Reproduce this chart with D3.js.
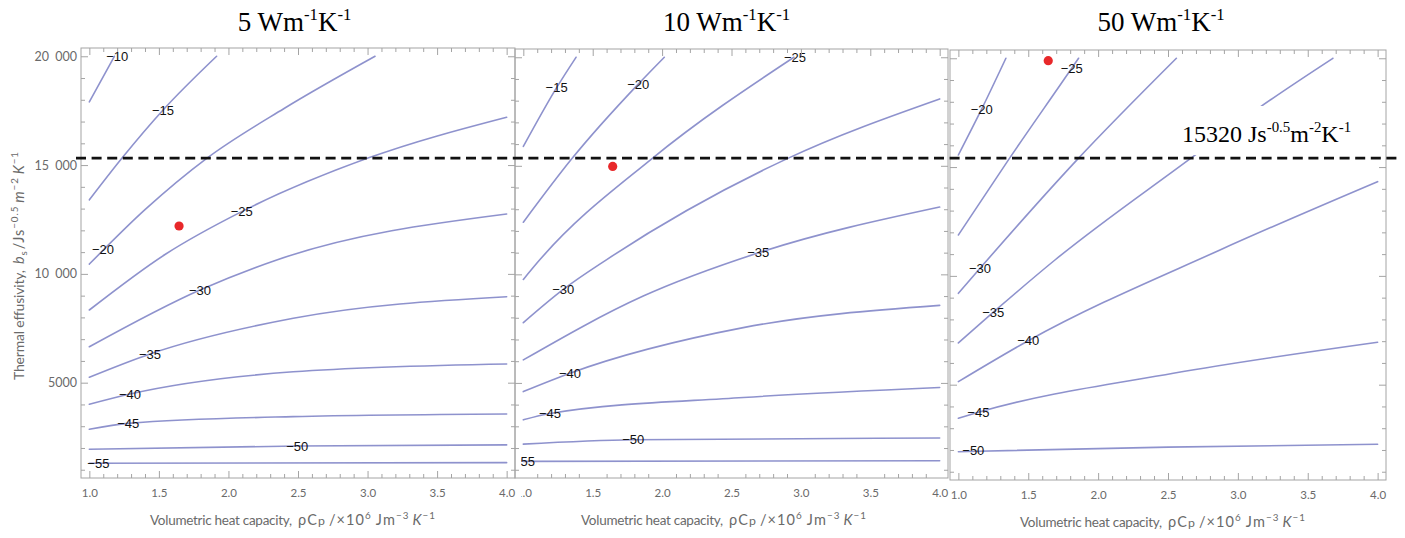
<!DOCTYPE html>
<html><head><meta charset="utf-8">
<script src="https://cdn.jsdelivr.net/npm/d3@7"></script>
<style>body{margin:0;background:#fff} svg{display:block}</style>
</head><body>
<svg id="chart" width="1405" height="538"></svg>
<script>
// ---------------- DATA ----------------
const conductivities = [5, 10, 50];                       // W m-1 K-1, one per panel
const xTickValues = [1.0, 1.5, 2.0, 2.5, 3.0, 3.5, 4.0];
const xTickLabels = ["1.0", "1.5", "2.0", "2.5", "3.0", "3.5", "4.0"];
const yTickValues = [5000, 10000, 15000, 20000];
const yTickLabels = ["5000", "10 000", "15 000", "20 000"];
const effusivityThreshold = 15320;
const thresholdLabel = "15320";
const redDots = [[1.645, 12200], [1.644, 14970], [1.643, 19890]];

// contour polylines: [level, [[rhoCp, b], ...]]
const panel1Contours = [
  [-10, [[1.0, 17900], [1.18, 20000]]],
  [-15, [[1.0, 13400], [1.235, 15320], [1.53, 17530], [1.915, 20000]]],
  [-20, [[1.0, 10450], [1.4, 12950], [1.846, 15320], [2.4, 17600], [3.054, 20000]]],
  [-25, [[1.0, 8340], [1.544, 10890], [2.095, 12860], [3.003, 15320], [4.0, 17200]]],
  [-30, [[1.0, 6650], [1.795, 9260], [2.347, 10640], [4.0, 12750]]],
  [-35, [[1.0, 5250], [1.436, 6320], [2.466, 7960], [4.0, 8950]]],
  [-40, [[1.0, 4010], [1.292, 4480], [2.466, 5500], [4.0, 5860]]],
  [-45, [[1.0, 2860], [1.28, 3130], [2.466, 3440], [4.0, 3560]]],
  [-50, [[1.0, 1940], [2.495, 2090], [4.0, 2140]]],
  [-55, [[1.0, 1300], [4.0, 1325]]]
];
const panel2Contours = [
  [-15, [[1.0, 15890], [1.24, 18600], [1.38, 20000]]],
  [-20, [[1.0, 12400], [1.349, 15320], [1.828, 18760], [2.016, 20000]]],
  [-25, [[1.0, 9765], [1.12, 10680], [1.925, 15320], [2.95, 20000]]],
  [-30, [[1.0, 7775], [1.288, 9305], [1.601, 10680], [2.898, 15320], [4.0, 18080]]],
  [-35, [[1.0, 6060], [1.864, 9000], [2.693, 10990], [4.0, 13100]]],
  [-40, [[1.0, 4600], [1.336, 5445], [2.585, 7545], [4.0, 8570]]],
  [-45, [[1.0, 3300], [1.192, 3593], [2.585, 4328], [4.0, 4790]]],
  [-50, [[1.0, 2180], [1.792, 2380], [4.0, 2460]]],
  [-55, [[1.0, 1387], [4.0, 1415]]]
];
const panel3Contours = [
  [-20, [[1.0, 15555], [1.167, 17670], [1.34, 20000]]],
  [-25, [[1.0, 11880], [1.357, 15320], [1.811, 19540], [1.86, 20000]]],
  [-30, [[1.0, 9200], [1.155, 10350], [1.847, 15320], [2.56, 20000]]],
  [-35, [[1.0, 6920], [1.25, 8330], [1.691, 10730], [2.645, 15320], [3.146, 17700], [3.68, 20000]]],
  [-40, [[1.0, 5140], [1.5, 7020], [2.872, 11190], [4.0, 14330]]],
  [-45, [[1.0, 3456], [1.143, 3732], [2.538, 5524], [4.0, 6950]]],
  [-50, [[1.0, 1920], [2.5, 2130], [4.0, 2260]]]
];
// contour labels: [level, rhoCp, b]
const panel1Labels = [[-10, 1.2, 20000], [-15, 1.53, 17530], [-20, 1.098, 11140], [-25, 2.095, 12860],
  [-30, 1.795, 9260], [-35, 1.436, 6320], [-40, 1.292, 4480], [-45, 1.28, 3130], [-50, 2.495, 2090], [-55, 1.065, 1300]];
const panel2Labels = [[-15, 1.24, 18600], [-20, 1.828, 18760], [-25, 2.957, 20000], [-30, 1.288, 9305],
  [-35, 2.693, 10990], [-40, 1.336, 5445], [-45, 1.192, 3593], [-50, 1.792, 2380], [-55, 1.005, 1390]];
const panel3Labels = [[-20, 1.167, 17670], [-25, 1.811, 19540], [-30, 1.155, 10350], [-35, 1.25, 8330],
  [-40, 1.5, 7020], [-45, 1.143, 3732], [-50, 1.107, 2000]];

// ---------------- LAYOUT ----------------
const layout = [
  {left: 81, right: 515, top: 48, bottom: 478, titleX: 294.6, labX: 150, labY: 525},
  {left: 515, right: 948, top: 49, bottom: 478, clipLeft: 521, titleX: 726.6, labX: 581, labY: 525},
  {left: 950, right: 1386, top: 50, bottom: 480, titleX: 1161, labX: 1020, labY: 527}
];
const allContours = [panel1Contours, panel2Contours, panel3Contours];
const allLabels = [panel1Labels, panel2Labels, panel3Labels];
const xDomain = [0.94, 4.06], yDomain = [620, 20380];
const axisFont = "Lato, 'Liberation Sans', Arial, sans-serif";
const serif = "'Liberation Serif', 'Times New Roman', serif";
const axisColor = "#6a6a6a", frameColor = "#a4a4a4";
const lineColor = "#6368ba";

const svg = d3.select("#chart");
const defs = svg.append("defs");

function rich(textSel, parts, base, supScale = 0.62) {
  let shift = 0;
  parts.forEach(p => {
    const target = p.sup ? -0.42 * base : (p.sub ? 0.2 * base : 0);
    const ts = textSel.append("tspan").text(p.t).attr("dy", (target - shift).toFixed(2));
    shift = target;
    if (p.sup || p.sub) ts.attr("font-size", (base * supScale).toFixed(2));
    if (p.small) ts.attr("font-size", (base * p.small).toFixed(2));
    if (p.it) ts.attr("font-style", "italic");
    if (p.dx) ts.attr("dx", p.dx);
  });
}

const minorX = d3.range(10, 41).map(d => d / 10).filter(d => !xTickValues.some(v => Math.abs(v - d) < 1e-6));
const minorY = d3.range(1, 21).map(d => d * 1000).filter(d => !yTickValues.includes(d));

let yPanel1;
layout.forEach((L, i) => {
  const x = d3.scaleLinear().domain(xDomain).range([L.left, L.right]);
  const y = d3.scaleLinear().domain(yDomain).range([L.bottom, L.top]);
  if (i === 0) yPanel1 = y;
  const g = svg.append("g");
  let clipRef = null;
  if (L.clipLeft) {
    const id = "clip" + i;
    defs.append("clipPath").attr("id", id).append("rect")
      .attr("x", L.clipLeft).attr("y", 0).attr("width", 1405 - L.clipLeft).attr("height", 538);
    clipRef = `url(#${id})`;
  }

  // contour lines
  const line = d3.line().x(d => x(d[0])).y(d => y(d[1])).curve(d3.curveMonotoneX);
  g.append("g").selectAll("path").data(allContours[i]).join("path")
    .attr("d", d => line(d[1]))
    .attr("fill", "none").attr("stroke", lineColor).attr("stroke-width", 1.6)
    .attr("stroke-opacity", 0.72).attr("stroke-linecap", "round");

  // contour labels
  const lg = g.append("g");
  if (clipRef) lg.attr("clip-path", clipRef);
  lg.selectAll("text").data(allLabels[i]).join("text")
    .attr("x", d => x(d[1])).attr("y", d => y(d[2]))
    .attr("text-anchor", "middle").attr("dy", "0.35em")
    .attr("font-family", "'Liberation Sans', Arial, sans-serif").attr("font-size", 13)
    .attr("fill", "#111").text(d => "\u2212" + Math.abs(d[0]));

  // frame
  g.append("rect").attr("x", L.left).attr("y", L.top)
    .attr("width", L.right - L.left).attr("height", L.bottom - L.top)
    .attr("fill", "none").attr("stroke", frameColor).attr("stroke-width", 1);

  const styleAxis = a => {
    a.select(".domain").remove();
    a.selectAll(".tick line").attr("stroke", frameColor);
    a.selectAll("text").attr("fill", axisColor).attr("font-family", axisFont);
  };
  // x axes
  g.append("g").attr("transform", `translate(0,${L.bottom})`)
    .call(d3.axisBottom(x).tickValues(minorX).tickSize(-4).tickFormat("")).call(styleAxis);
  const xb = g.append("g").attr("transform", `translate(0,${L.bottom})`)
    .call(d3.axisBottom(x).tickValues(xTickValues).tickSize(-7).tickPadding(11)
      .tickFormat((d, k) => xTickLabels[k])).call(styleAxis);
  xb.selectAll("text").attr("font-size", 11.5);
  if (clipRef) xb.attr("clip-path", clipRef);
  g.append("g").attr("transform", `translate(0,${L.top})`)
    .call(d3.axisTop(x).tickValues(minorX).tickSize(-4).tickFormat("")).call(styleAxis);
  g.append("g").attr("transform", `translate(0,${L.top})`)
    .call(d3.axisTop(x).tickValues(xTickValues).tickSize(-7).tickFormat("")).call(styleAxis);
  // y axes
  g.append("g").attr("transform", `translate(${L.left},0)`)
    .call(d3.axisLeft(y).tickValues(minorY).tickSize(-4).tickFormat("")).call(styleAxis);
  const yl = g.append("g").attr("transform", `translate(${L.left},0)`)
    .call(d3.axisLeft(y).tickValues(yTickValues).tickSize(-7).tickPadding(4)
      .tickFormat((d, k) => i === 0 ? yTickLabels[k] : "")).call(styleAxis);
  yl.selectAll("text").attr("font-size", 12.5).attr("word-spacing", 3);
  g.append("g").attr("transform", `translate(${L.right},0)`)
    .call(d3.axisRight(y).tickValues(minorY).tickSize(-4).tickFormat("")).call(styleAxis);
  g.append("g").attr("transform", `translate(${L.right},0)`)
    .call(d3.axisRight(y).tickValues(yTickValues).tickSize(-7).tickFormat("")).call(styleAxis);

  // red dot
  g.append("circle").attr("cx", x(redDots[i][0])).attr("cy", y(redDots[i][1]))
    .attr("r", 4.6).attr("fill", "#e8282a");

  // title
  const t = svg.append("text").attr("x", L.titleX).attr("y", 31).attr("text-anchor", "middle")
    .attr("font-family", serif).attr("font-size", 27).attr("fill", "#000");
  rich(t, [{t: conductivities[i] + " Wm"}, {t: "-1", sup: true}, {t: "K"}, {t: "-1", sup: true}], 27);

  // x label (two runs, as spaced in the original)
  svg.append("text").attr("x", L.labX).attr("y", L.labY)
    .attr("font-family", axisFont).attr("font-size", 13.5).attr("fill", axisColor)
    .attr("textLength", 142).attr("lengthAdjust", "spacing")
    .text("Volumetric heat capacity,");
  const xl2 = svg.append("text").attr("x", L.labX + 148).attr("y", L.labY)
    .attr("font-family", axisFont).attr("font-size", 14.5).attr("fill", axisColor)
    .attr("textLength", 137).attr("lengthAdjust", "spacing");
  rich(xl2, [{t: "\u03c1C"}, {t: "p", small: 0.85}, {t: "/\u00d710", dx: 3},
    {t: "6", sup: true}, {t: "Jm", dx: 4}, {t: "\u22123", sup: true}, {t: "K", it: true, dx: 3},
    {t: "\u22121", sup: true}], 14.5, 0.68);
});

// y label (two runs)
svg.append("text").attr("transform", "translate(24,380) rotate(-90)")
  .attr("font-family", axisFont).attr("font-size", 14).attr("fill", axisColor)
  .attr("textLength", 110).attr("lengthAdjust", "spacing")
  .text("Thermal effusivity,");
const yLab2 = svg.append("text").attr("transform", "translate(24,264) rotate(-90)")
  .attr("font-family", axisFont).attr("font-size", 14.5).attr("fill", axisColor)
  .attr("textLength", 112).attr("lengthAdjust", "spacing");
rich(yLab2, [{t: "b", it: true}, {t: "s", sub: true}, {t: "/Js", dx: 1},
  {t: "\u22120.5", sup: true}, {t: "m", it: true, dx: 3}, {t: "\u22122", sup: true},
  {t: "K", it: true, dx: 3}, {t: "\u22121", sup: true}], 14.5, 0.68);

// threshold annotation box + label
svg.append("rect").attr("x", 1178).attr("y", 106).attr("width", 178).attr("height", 49).attr("fill", "#fff");
const thr = svg.append("text").attr("x", 1182).attr("y", 141.7)
  .attr("font-family", serif).attr("font-size", 24).attr("fill", "#000");
rich(thr, [{t: thresholdLabel + " Js"}, {t: "-0.5", sup: true}, {t: "m"}, {t: "-2", sup: true},
  {t: "K"}, {t: "-1", sup: true}], 24);

// dashed threshold line
svg.append("line").attr("x1", 76).attr("x2", 1398)
  .attr("y1", yPanel1(effusivityThreshold)).attr("y2", yPanel1(effusivityThreshold))
  .attr("stroke", "#111").attr("stroke-width", 2.8).attr("stroke-dasharray", "10,5.6");
</script>
</body></html>
